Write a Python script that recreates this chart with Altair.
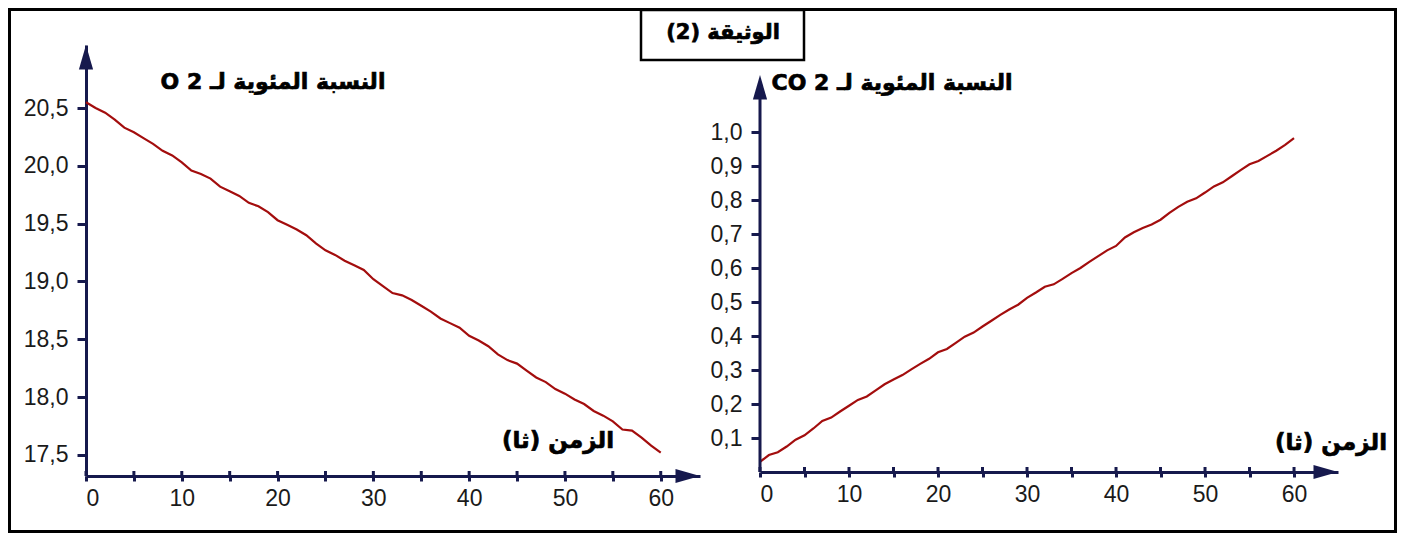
import altair as alt
import pandas as pd

# ---------------- data ----------------
time_s = list(range(0, 61))
o2_percent = [20.55, 20.50, 20.46, 20.40, 20.33, 20.29, 20.24, 20.19, 20.13, 20.09,
              20.03, 19.96, 19.93, 19.89, 19.82, 19.78, 19.74, 19.68, 19.65, 19.60,
              19.53, 19.49, 19.45, 19.40, 19.33, 19.27, 19.23, 19.18, 19.14, 19.10,
              19.02, 18.96, 18.90, 18.88, 18.84, 18.79, 18.74, 18.68, 18.64, 18.60,
              18.53, 18.49, 18.44, 18.37, 18.32, 18.29, 18.23, 18.17, 18.13, 18.07,
              18.03, 17.98, 17.94, 17.88, 17.84, 17.79, 17.72, 17.71, 17.65, 17.58,
              17.52]
co2_percent = [0.030, 0.050, 0.058, 0.075, 0.095, 0.108, 0.128, 0.150, 0.160, 0.178,
               0.195, 0.212, 0.222, 0.240, 0.258, 0.272, 0.285, 0.302, 0.318, 0.333,
               0.352, 0.362, 0.380, 0.398, 0.410, 0.428, 0.445, 0.462, 0.478, 0.492,
               0.512, 0.528, 0.545, 0.552, 0.568, 0.585, 0.600, 0.618, 0.635, 0.652,
               0.665, 0.690, 0.705, 0.718, 0.728, 0.742, 0.762, 0.780, 0.795, 0.805,
               0.822, 0.840, 0.852, 0.870, 0.888, 0.905, 0.915, 0.930, 0.945, 0.962,
               0.982]
x_ticks = list(range(0, 61, 5))
o2_ticks = [17.5, 18.0, 18.5, 19.0, 19.5, 20.0, 20.5]
co2_ticks = [0.1, 0.2, 0.3, 0.4, 0.5, 0.6, 0.7, 0.8, 0.9, 1.0]

doc_title = "الوثيقة (2)"
o2_title = "النسبة المئوية لـ O 2"
co2_title = "النسبة المئوية لـ CO 2"
time_title = "الزمن (ثا)"

# ---------------- styling ----------------
NAVY = "#16194d"
RED = "#a30d0d"
LABEL_FONT = "Liberation Sans Narrow, Arial Narrow, Liberation Sans, Arial"
AR_FONT = "DejaVu Sans"
RLE, PDF = "\u202b", "\u202c"
UP = "M0,-1L0.58,1L-0.58,1Z"
RIGHT = "M1,0L-1,0.58L-1,-0.58Z"
ARROW_SIZE = 600
HALF = ARROW_SIZE ** 0.5 / 2


def one(**kw):
    return pd.DataFrame({k: [v] for k, v in kw.items()})


def ar_text(txt, x, y, size):
    return alt.Chart(one(label=RLE + txt + PDF)).mark_text(
        font=AR_FONT, fontWeight="bold", fontSize=size, align="center",
        baseline="middle", color="black", stroke="black", strokeWidth=0.7
    ).encode(x=alt.value(x), y=alt.value(y), text="label:N")


def arrow(shape, x, y):
    return alt.Chart(one(a=1)).mark_point(
        shape=shape, size=ARROW_SIZE, filled=True, fill=NAVY, strokeWidth=0, opacity=1
    ).encode(x=alt.value(x), y=alt.value(y))


def panel(values, yticks, ydom, xdom, W, H, y_domain_line=True, y_tip=0):
    df = pd.DataFrame({"t": time_s, "v": values})
    xenc = alt.X("t:Q", scale=alt.Scale(domain=xdom, nice=False, zero=False),
                 axis=alt.Axis(values=x_ticks, tickSize=5, tickWidth=3, tickColor=NAVY,
                               domainColor=NAVY, domainWidth=3, grid=False,
                               labelExpr="datum.value % 10 == 0 ? datum.label : ''",
                               labelFont=LABEL_FONT, labelFontSize=23, labelColor="#1a1a1a",
                               labelPadding=6, title=None, format="d"))
    yenc = alt.Y("v:Q", scale=alt.Scale(domain=ydom, nice=False, zero=False),
                 axis=alt.Axis(values=yticks, tickSize=9, tickWidth=3, tickColor=NAVY,
                               domain=y_domain_line, domainColor=NAVY, domainWidth=3,
                               grid=False,
                               labelExpr="replace(format(datum.value, '.1f'), '.', ',')",
                               labelFont=LABEL_FONT, labelFontSize=23, labelColor="#1a1a1a",
                               labelPadding=9, title=None))
    line = alt.Chart(df).mark_line(color=RED, strokeWidth=2.2).encode(x=xenc, y=yenc)
    tk = alt.Chart(pd.DataFrame({"t": x_ticks})).mark_rule(
        color=NAVY, strokeWidth=3).encode(x=xenc, y=alt.value(H - 5), y2=alt.value(H))
    layers = [line, tk]
    if not y_domain_line:
        layers.append(alt.Chart(one(a=1)).mark_rule(color=NAVY, strokeWidth=3).encode(
            x=alt.value(0), y=alt.value(y_tip + 10), y2=alt.value(H)))
    layers.append(arrow(UP, 0, y_tip + HALF))
    layers.append(arrow(RIGHT, W - HALF, H))
    return layers


LW, LH = 614, 431
RW, RH = 578, 427

frame = alt.Chart(one(a=1)).mark_rect(
    filled=False, stroke="black", strokeWidth=3
).encode(x=alt.value(-76.5), x2=alt.value(1309.5), y=alt.value(-35.5), y2=alt.value(486.5))
box = alt.Chart(one(a=1)).mark_rect(
    fill="white", stroke="black", strokeWidth=2.5
).encode(x=alt.value(555), x2=alt.value(718), y=alt.value(-35), y2=alt.value(15))

left = alt.layer(
    frame, box,
    *panel(o2_percent, o2_ticks, [17.318, 21.045], [0, 64.1], LW, LH),
    ar_text(doc_title, 637, -12, 21),
    ar_text(o2_title, 187, 37, 22),
    ar_text(time_title, 472, 396, 23),
).properties(width=LW, height=LH)

right = alt.layer(
    *panel(co2_percent, co2_ticks, [0, 1.256], [0, 64.94], RW, RH,
           y_domain_line=False, y_tip=30),
    ar_text(co2_title, 132, 38, 22),
    ar_text(time_title, 571, 398, 23),
).properties(width=RW, height=RH)

chart = alt.hconcat(left, right, spacing=60, bounds="flush").properties(
    padding=0, background="white"
).configure_view(strokeWidth=0)

chart.save("out.html", embed_options={"renderer": "svg", "actions": False})
